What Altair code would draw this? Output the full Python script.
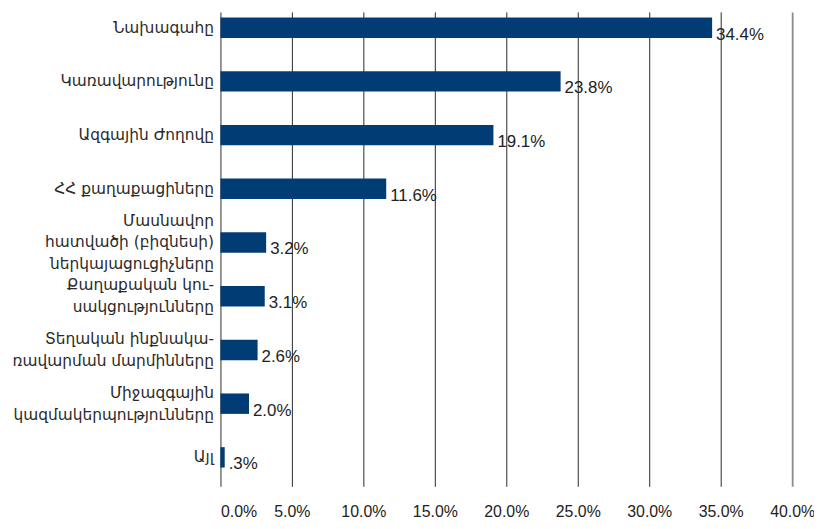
import altair as alt
import pandas as pd

categories = [
    "Նախագահը",
    "Կառավարությունը",
    "Ազգային Ժողովը",
    "ՀՀ քաղաքացիները",
    "Մասնավոր\nհատվածի (բիզնեսի)\nներկայացուցիչները",
    "Քաղաքական կու-\nսակցությունները",
    "Տեղական ինքնակա-\nռավարման մարմինները",
    "Միջազգային\nկազմակերպությունները",
    "Այլ",
]
values = [34.4, 23.8, 19.1, 11.6, 3.2, 3.1, 2.6, 2.0, 0.3]
value_labels = ["34.4%", "23.8%", "19.1%", "11.6%", "3.2%", "3.1%", "2.6%", "2.0%", ".3%"]
x_ticks = [0, 5, 10, 15, 20, 25, 30, 35, 40]

df = pd.DataFrame({"cat": categories, "val": values, "lab": value_labels})

y_enc = alt.Y(
    "cat:N",
    sort=categories,
    title=None,
    scale=alt.Scale(paddingInner=0.62, paddingOuter=0.227, align=0.23),
    axis=alt.Axis(
        labelExpr="split(datum.label, '\\n')",
        labelFont="DejaVu Sans",
        labelFontSize=15.5,
        labelColor="#2a2a2a",
        labelLineHeight=22,
        labelPadding=7,
        labelLimit=0,
        labelOffset={
            "condition": [
                {"test": "length(split(datum.value, '\\n')) == 3", "value": -22},
                {"test": "length(split(datum.value, '\\n')) == 2", "value": -11},
            ],
            "value": 0,
        },
        ticks=False,
        domain=False,
        grid=False,
    ),
)

x_enc = alt.X(
    "val:Q",
    title=None,
    scale=alt.Scale(domain=[0, 40], nice=False),
    axis=alt.Axis(
        values=x_ticks,
        labelExpr="format(datum.value, '.1f') + '%'",
        labelFont="Liberation Sans",
        labelFontSize=16,
        labelColor="#222222",
        labelPadding=17,
        labelFlush=False,
        labelAlign={"condition": {"test": "datum.value == 0", "value": "left"}, "value": "center"},
        ticks=False,
        domain=False,
        grid=True,
        gridColor={"condition": {"test": "datum.value == 0 || datum.value == 40", "value": "#8a8a8a"}, "value": "#2a2a2a"},
        gridWidth={"condition": {"test": "datum.value == 0 || datum.value == 40", "value": 1.8}, "value": 1},
        gridOpacity=1,
    ),
)

bars = alt.Chart(df).mark_bar(color="#023c74").encode(x=x_enc, y=y_enc)

labels = alt.Chart(df).mark_text(
    align="left", baseline="middle", dx=4, dy=7,
    font="Liberation Sans", fontSize=17, color="#222222",
).encode(x="val:Q", y=alt.Y("cat:N", sort=categories), text="lab:N")

chart = (
    alt.layer(bars, labels)
    .properties(
        width=576,
        height=478,
        autosize=alt.AutoSizeParams(type="none"),
        padding={"left": 214, "top": 2, "right": 22, "bottom": 35},
    )
    .configure_view(stroke=None)
)

chart.save("out.html", embed_options={"renderer": "svg", "actions": False})
